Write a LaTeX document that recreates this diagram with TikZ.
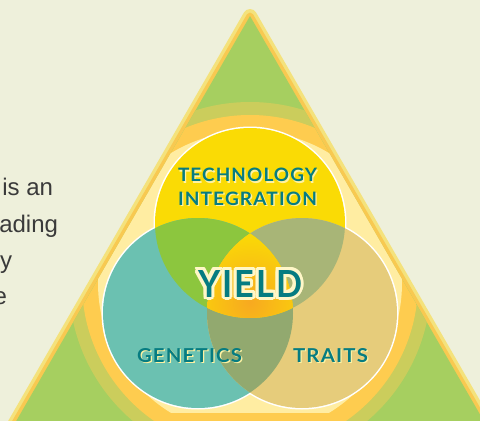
\documentclass[tikz,border=0pt]{standalone}
\usepackage{fontspec}
\usepackage{graphicx}
\setmainfont{Liberation Sans}
\newfontfamily\lblfont{Lato}[LetterSpace=6]
\definecolor{bgc}{HTML}{EEF0DB}
\definecolor{borderY}{HTML}{F4E27C}
\definecolor{borderO}{HTML}{F8C951}
\definecolor{triG}{HTML}{A6CF60}
\definecolor{ringOl}{HTML}{CBCD5C}
\definecolor{ringOr}{HTML}{FECC4F}
\definecolor{ringPa}{HTML}{FFEDA2}
\definecolor{cTop}{HTML}{FADB05}
\definecolor{cLeft}{HTML}{6BC1B1}
\definecolor{cRight}{HTML}{E6CC7B}
\definecolor{iTL}{HTML}{8CC63E}
\definecolor{iTR}{HTML}{A8B577}
\definecolor{iLR}{HTML}{92A96F}
\definecolor{iCore}{HTML}{F8A920}
\definecolor{txtTeal}{HTML}{067C81}
\definecolor{txtShadow}{HTML}{FFF2A2}
\definecolor{txtOutline}{HTML}{FFF7C8}
\definecolor{bodyTxt}{HTML}{3A3A3A}
\newcommand{\fitlbl}[3]{\resizebox{#1pt}{#2pt}{\lblfont\bfseries #3}}
\begin{document}
\begin{tikzpicture}[x=1pt,y=-1pt,
  lblnode/.style={inner sep=0pt, outer sep=0pt, anchor=base west},
  bodytext/.style={inner sep=0pt, outer sep=0pt, anchor=base east, text=bodyTxt, font=\fontsize{24}{28}\selectfont},
  vennedge/.style={draw=white, line width=3pt}]
\useasboundingbox (0,0) rectangle (480,421);
\clip (0,0) rectangle (480,421);
\fill[bgc] (0,0) rectangle (480,421);
% body text fragments
\node[bodytext] (t1) at (53,195) {is an};
\node[bodytext] (t2) at (58,232) {ading};
\node[bodytext] (t3) at (12,268) {y};
\node[bodytext] (t4) at (7,304) {e};
% outer triangle
\coordinate (apex) at (250,16);
\coordinate (bl) at (-6.3,460);
\coordinate (br) at (506.3,460);
\draw[borderY, line width=14pt, line join=round] (apex) -- (bl) -- (br) -- cycle;
\draw[borderO, line width=7pt, line join=round] (apex) -- (bl) -- (br) -- cycle;
\fill[triG] (apex) -- (bl) -- (br) -- cycle;
% rings
\coordinate (rc) at (250,283);
\begin{scope}
  \clip (apex) -- (bl) -- (br) -- cycle;
  \fill[ringOl] (rc) circle[radius=181];
  \fill[ringOr] (rc) circle[radius=168];
  \begin{scope}
    \clip (rc) circle[radius=152];
    \fill[ringPa] (0,0) rectangle (480,413);
  \end{scope}
\end{scope}
% venn
\coordinate (ct) at (250,223);
\coordinate (cl) at (198,313);
\coordinate (cr) at (302,313);
\path[vennedge] (ct) circle[radius=95] (cl) circle[radius=95] (cr) circle[radius=95];
\fill[cTop] (ct) circle[radius=95];
\fill[cLeft] (cl) circle[radius=95];
\fill[cRight] (cr) circle[radius=95];
\begin{scope}
  \clip (ct) circle[radius=95];
  \fill[iTL] (cl) circle[radius=95];
\end{scope}
\begin{scope}
  \clip (ct) circle[radius=95];
  \fill[iTR] (cr) circle[radius=95];
\end{scope}
\begin{scope}
  \clip (cl) circle[radius=95];
  \fill[iLR] (cr) circle[radius=95];
\end{scope}
\begin{scope}
  \clip (ct) circle[radius=95];
  \clip (cl) circle[radius=95];
  \clip (cr) circle[radius=95];
  \fill[cTop] (150,220) rectangle (350,330);
  \shade[inner color=iCore, outer color=cTop] (250,302) circle[radius=70];
\end{scope}
% labels
\node[lblnode, text=txtShadow] (techS) at (179.3,183) {\fitlbl{139}{13.5}{TECHNOLOGY}};
\node[lblnode, text=txtTeal] (tech) at (178,181.7) {\fitlbl{139}{13.5}{TECHNOLOGY}};
\node[lblnode, text=txtShadow] (integS) at (179.3,206.8) {\fitlbl{139}{13.5}{INTEGRATION}};
\node[lblnode, text=txtTeal] (integ) at (178,205.5) {\fitlbl{139}{13.5}{INTEGRATION}};
\node[lblnode, text=txtShadow] (genS) at (138.3,363.3) {\fitlbl{105}{14}{GENETICS}};
\node[lblnode, text=txtTeal] (gen) at (137,362) {\fitlbl{105}{14}{GENETICS}};
\node[lblnode, text=txtShadow] (traS) at (294.3,363.3) {\fitlbl{75}{14}{TRAITS}};
\node[lblnode, text=txtTeal] (tra) at (293,362) {\fitlbl{75}{14}{TRAITS}};
\foreach \a [count=\i] in {0,22.5,...,337.5}
  \node[lblnode, text=txtOutline, shift={(\a:3)}] (yo\i) at (198,297) {\fitlbl{104}{27}{YIELD}};
\node[lblnode, text=txtTeal] (yield) at (198,297) {\fitlbl{104}{27}{YIELD}};
\end{tikzpicture}
\end{document}
